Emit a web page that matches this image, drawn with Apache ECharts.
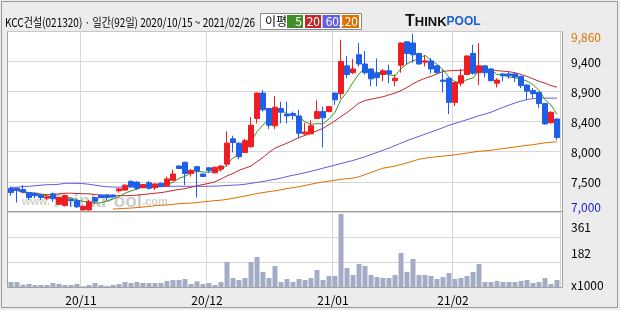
<!DOCTYPE html>
<html><head><meta charset="utf-8">
<script src="https://cdn.jsdelivr.net/npm/echarts@6/dist/echarts.min.js"></script>
<style>html,body{margin:0;padding:0;background:#ececec;}#c{width:620px;height:310px;}</style>
</head><body><div id="c"></div>
<script>
// ---------- DATA ----------
const dates = [
'2020/10/15','2020/10/16','2020/10/19','2020/10/20','2020/10/21','2020/10/22','2020/10/23','2020/10/26','2020/10/27','2020/10/28','2020/10/29','2020/10/30',
'2020/11/02','2020/11/03','2020/11/04','2020/11/05','2020/11/06','2020/11/09','2020/11/10','2020/11/11','2020/11/12','2020/11/13','2020/11/16','2020/11/17','2020/11/18','2020/11/19','2020/11/20','2020/11/23','2020/11/24','2020/11/25','2020/11/26','2020/11/27','2020/11/30',
'2020/12/01','2020/12/02','2020/12/03','2020/12/04','2020/12/07','2020/12/08','2020/12/09','2020/12/10','2020/12/11','2020/12/14','2020/12/15','2020/12/16','2020/12/17','2020/12/18','2020/12/21','2020/12/22','2020/12/23','2020/12/24','2020/12/28','2020/12/29','2020/12/30',
'2021/01/04','2021/01/05','2021/01/06','2021/01/07','2021/01/08','2021/01/11','2021/01/12','2021/01/13','2021/01/14','2021/01/15','2021/01/18','2021/01/19','2021/01/20','2021/01/21','2021/01/22','2021/01/25','2021/01/26','2021/01/27','2021/01/28','2021/01/29',
'2021/02/01','2021/02/02','2021/02/03','2021/02/04','2021/02/05','2021/02/08','2021/02/09','2021/02/10','2021/02/15','2021/02/16','2021/02/17','2021/02/18','2021/02/19','2021/02/22','2021/02/23','2021/02/24','2021/02/25','2021/02/26'];

const opens = [7360,7360,7340,7290,7280,7250,7200,7270,7100,7080,7180,7160,7010,7010,7210,7250,7250,7250,7320,7330,
7470,7460,7370,7450,7370,7440,7400,7490,7720,7780,7600,7710,7590,7690,7610,7670,7750,8160,8090,7940,
8030,8490,8900,8650,8370,8650,8560,8570,8530,8240,8240,8490,8600,8600,8900,8890,9340,9230,9520,9370,
9290,9220,9200,9260,9100,9350,9730,9710,9540,9400,9420,9340,9110,9140,8750,9060,9200,9540,9230,9340,
9290,9060,9210,9210,9210,9170,9030,8940,8910,8730,8420,8480];
const closes = [7290,7330,7300,7210,7240,7210,7220,7190,7210,7240,7160,7060,7070,7140,7150,7210,7210,7220,7350,7410,
7390,7360,7420,7360,7430,7390,7510,7590,7680,7600,7650,7640,7550,7650,7700,7720,8090,8100,7870,8130,
8380,8900,8630,8380,8670,8590,8530,8540,8250,8270,8370,8600,8500,8680,8790,9410,9200,9290,9370,9230,
9130,9150,9260,9210,9140,9710,9540,9520,9370,9420,9290,9230,9090,8750,9070,9180,9500,9220,9340,9230,
9100,9110,9180,9180,9160,9020,8930,8890,8730,8400,8590,8180];
const lows = [7240,7130,7280,7170,7200,7170,7170,7140,7090,7070,7060,7040,7000,7000,7120,7200,7170,7210,7290,7320,
7380,7330,7360,7340,7330,7380,7390,7480,7670,7410,7550,7210,7540,7610,7600,7630,7710,7940,7830,7930,
8020,8410,8600,8320,8320,8410,8410,8470,8170,8210,8240,8480,8020,8590,8710,8810,9140,9210,9330,9200,
9010,9010,9090,9060,9010,9230,9360,9390,9360,9330,9220,9220,8910,8560,8690,9010,9190,9200,9030,9150,
9090,8990,9090,9130,9080,8980,8800,8820,8660,8390,8410,8140];
const highs = [7390,7370,7410,7300,7290,7260,7250,7290,7220,7250,7200,7170,7080,7170,7220,7260,7260,7260,7360,7420,
7490,7470,7430,7480,7440,7450,7550,7660,7730,7790,7670,7720,7600,7700,7710,7730,8280,8210,8100,8160,
8510,8910,8950,8660,8850,8760,8760,8600,8630,8420,8460,8780,8680,8690,8910,9760,9500,9450,9710,9580,
9300,9460,9290,9360,9200,9720,9740,9860,9550,9500,9470,9350,9280,9150,9080,9290,9510,9680,9710,9350,
9300,9140,9220,9240,9220,9180,9040,8980,8920,8740,8600,8490];
const volumes = [38,38,19,24,17,17,17,31,24,17,17,24,7,17,31,17,10,17,24,38,
31,38,31,31,31,31,46,53,53,60,24,43,24,31,17,38,183,67,53,67,
183,219,111,67,154,38,60,38,60,53,67,125,53,82,82,529,139,89,168,154,
89,74,67,67,89,248,111,204,89,89,82,60,74,103,60,67,82,111,168,38,
38,46,38,38,38,46,53,31,38,67,24,53];
const ma5 = [7350,7330,7310,7290,7274,7258,7236,7214,7214,7214,7204,7172,7148,7134,7116,7126,7156,7186,7228,7280,
7316,7346,7386,7388,7392,7392,7422,7456,7520,7554,7606,7632,7624,7618,7638,7652,7742,7852,7896,7982,
8114,8276,8382,8484,8592,8634,8560,8542,8516,8436,8392,8406,8398,8484,8588,8796,8916,9074,9212,9300,
9244,9234,9228,9196,9178,9294,9372,9424,9456,9512,9428,9366,9280,9156,9086,9064,9118,9144,9262,9294,
9278,9200,9192,9160,9146,9130,9094,9036,8946,8794,8708,8558];
const ma20 = [7330,7325,7290,7285,7280,7265,7258,7255,7270,7280,7280,7275,7272,7270,7260,7245,7240,7240,7240,7240,
7242,7250,7258,7270,7280,7290,7305,7325,7340,7355,7375,7400,7420,7440,7465,7510,7560,7600,7650,7685,
7720,7790,7860,7940,8010,8050,8090,8135,8180,8215,8250,8290,8330,8390,8450,8520,8585,8660,8740,8780,
8800,8820,8840,8870,8900,8940,8990,9050,9100,9140,9170,9210,9250,9260,9265,9270,9275,9277,9277,9275,
9270,9262,9255,9245,9230,9200,9170,9130,9090,9060,9020,8996];
const ma60 = [7376,7376,7390,7392,7400,7410,7418,7418,7425,7440,7440,7440,7435,7425,7410,7395,7385,7380,7378,7378,
7378,7378,7378,7380,7382,7385,7390,7392,7392,7392,7392,7392,7392,7392,7395,7398,7405,7410,7415,7425,
7440,7455,7470,7488,7505,7525,7550,7570,7590,7612,7635,7658,7685,7710,7735,7760,7785,7810,7840,7870,
7905,7940,7975,8010,8050,8090,8130,8165,8200,8235,8270,8305,8340,8380,8410,8440,8470,8500,8535,8560,
8590,8630,8670,8705,8740,8770,8795,8810,8818,8818,8818,8818];
const ma120 = [null,null,null,null,null,null,null,null,null,null,null,null,null,null,null,null,null,7024,7030,7035,
7040,7048,7056,7067,7078,7085,7090,7100,7110,7116,7120,7128,7140,7150,7160,7168,7180,7198,7215,7235,
7255,7275,7290,7305,7320,7335,7355,7370,7385,7405,7425,7445,7462,7475,7490,7505,7515,7525,7545,7580,
7615,7650,7685,7700,7720,7745,7770,7800,7830,7845,7860,7870,7880,7890,7900,7915,7930,7945,7958,7965,
7975,7990,8000,8015,8028,8040,8055,8065,8080,8095,8105,8112];
const priceTickLabels = ['7,000','7,500','8,000','8,400','8,900','9,400','9,860'];
const volumeTickLabels = ['x1000','182','361',''];
const maNames = ['5','20','60','120'];
const titleText = 'KCC건설(021320) · 일간(92일) 2020/10/15 ~ 2021/02/26';

// ---------- CHART ----------
const FONT = '"Noto Sans CJK KR", "Noto Sans", sans-serif';
const monthStart = dates.map((d,i)=> i>0 && d.slice(0,7)!==dates[i-1].slice(0,7));
const ohlc = dates.map((d,i)=>[opens[i],closes[i],lows[i],highs[i]]);
const GRID_LINE = '#d6d6d6';
const maColors = ['#3f9322','#c42a2a','#6a5be0','#e07000'];
const boxColors = ['#3e8e28','#c02828','#6262dc','#e07000'];

// fit the title into the same width as the reference header text
const mctx = document.createElement('canvas').getContext('2d');
mctx.font = '12px ' + FONT;
const titleScale = Math.min(1, 250 / mctx.measureText(titleText).width);

const chart = echarts.init(document.getElementById('c'));
const xBase = {type:'category', data:dates, boundaryGap:true,
  axisLine:{show:false}, axisTick:{show:false},
  splitLine:{show:true, interval:(i)=>monthStart[i], lineStyle:{color:GRID_LINE,width:1}}};

const legendGraphics = [];
const boxX = [287,305,322.5,341.5], boxW = [16,16,17.5,17.5];
maNames.forEach((n,k)=>{
  legendGraphics.push({type:'rect', shape:{x:boxX[k],y:15,width:boxW[k],height:13}, style:{fill:boxColors[k]}, z:20});
  legendGraphics.push({type:'text', x:boxX[k]+boxW[k]-1, y:21.5, style:{text:n, fill:'#fff', font:'12px '+FONT, align:'right', verticalAlign:'middle'}, z:21});
});

chart.setOption({
  animation:false,
  backgroundColor:'#ececec',
  grid:[{left:8, top:31, width:552, height:181},{left:8, top:212, width:552, height:75.3}],
  xAxis:[
    Object.assign({}, xBase, {gridIndex:0, axisLabel:{show:false}}),
    Object.assign({}, xBase, {gridIndex:1, axisLabel:{show:true, interval:(i)=>monthStart[i],
      formatter:(v)=>v.slice(2,7), color:'#000', fontSize:12, fontFamily:FONT, margin:7, padding:[0,4,0,0]}})
  ],
  yAxis:[
    {type:'value', gridIndex:0, min:6976, max:9904, show:false},
    {type:'value', gridIndex:0, min:0, max:6, interval:1, position:'right',
      axisLine:{show:false}, axisTick:{show:false},
      splitLine:{show:true, lineStyle:{color:GRID_LINE}},
      axisLabel:{margin:11, fontSize:12, fontFamily:FONT, color:'#000',
        formatter:(v)=>{const i=Math.round(v); const t=priceTickLabels[i]; return '{'+(i===6?'hi':(i===0?'lo':'n'))+'|'+t+'}';},
        rich:{hi:{color:'#e07000',fontSize:12,fontFamily:FONT,padding:[13,0,0,0]},
              lo:{color:'#1c1cd6',fontSize:12,fontFamily:FONT,padding:[0,0,10,0]},
              n:{color:'#000',fontSize:12,fontFamily:FONT,padding:[2,0,0,0]}}}},
    {type:'value', gridIndex:1, min:0, max:543, interval:181, position:'right',
      axisLine:{show:false}, axisTick:{show:false},
      splitLine:{show:true, lineStyle:{color:GRID_LINE}},
      axisLabel:{margin:11, fontSize:12, fontFamily:FONT, color:'#000',
        formatter:(v)=>{const i=Math.round(v/181); return '{v'+i+'|'+volumeTickLabels[i]+'}';},
        rich:{v0:{fontSize:12,fontFamily:FONT,color:'#000',padding:[0,0,3,0]},
              v1:{fontSize:12,fontFamily:FONT,color:'#000',padding:[0,0,17,0]},
              v2:{fontSize:12,fontFamily:FONT,color:'#000',padding:[0,0,19,0]},
              v3:{fontSize:12,fontFamily:FONT,color:'#000'}}}}
  ],
  series:[
    {type:'line', name:'MA120', xAxisIndex:0, yAxisIndex:0, data:ma120, symbol:'none', z:3, lineStyle:{color:maColors[3], width:1}},
    {type:'line', name:'MA60', xAxisIndex:0, yAxisIndex:0, data:ma60, symbol:'none', z:3, lineStyle:{color:maColors[2], width:1}},
    {type:'line', name:'MA20', xAxisIndex:0, yAxisIndex:0, data:ma20, symbol:'none', z:3, lineStyle:{color:maColors[1], width:1}},
    {type:'line', name:'MA5', xAxisIndex:0, yAxisIndex:0, data:ma5, symbol:'none', z:3, lineStyle:{color:maColors[0], width:1}},
    {type:'candlestick', xAxisIndex:0, yAxisIndex:0, data:ohlc, barWidth:5, z:4,
      itemStyle:{color:'#ee1d23', color0:'#1f5fe6', borderColor:'#ee1d23', borderColor0:'#1f5fe6', borderWidth:1}},
    {type:'bar', xAxisIndex:1, yAxisIndex:2, data:volumes, barWidth:5, itemStyle:{color:'#a3acc4'}}
  ],
  graphic:[
    {type:'rect', shape:{x:7.5,y:31.5,width:555,height:256}, style:{fill:'#fff'}, z:-10, silent:true},
    {type:'text', x:22, y:211, z:1, style:{text:'{a|www.}{b|ThinkPool}{a|.com}', verticalAlign:'bottom',
      rich:{a:{fontSize:11,fontWeight:'bold',fontFamily:'"Liberation Sans"',fill:'#d0d0d0'},
            b:{fontSize:19,fontWeight:'bold',fontFamily:'"Liberation Sans"',fill:'#cccccc'}}}},
    {type:'rect', shape:{x:7.5,y:31.5,width:555,height:256}, style:{fill:null, stroke:'#a2a2a2', lineWidth:1}, z:30, silent:true},
    {type:'line', shape:{x1:7.5,y1:31.5,x2:562.5,y2:31.5}, style:{stroke:'#c8c8c8', lineWidth:1}, z:31},
    {type:'line', shape:{x1:7.5,y1:211.5,x2:562.5,y2:211.5}, style:{stroke:'#9a9a9a', lineWidth:1}, z:31},
    {type:'rect', shape:{x:1.5,y:1.5,width:616,height:306}, style:{fill:null, stroke:'#9a9a9a', lineWidth:1}, z:30, silent:true},
    {type:'text', x:5, y:22, scaleX:titleScale, z:20, style:{text:titleText, fill:'#000', font:'12px '+FONT, verticalAlign:'middle'}},
    {type:'rect', shape:{x:260.5,y:13.5,width:101,height:16}, style:{fill:'#fff', stroke:'#8a8a8a', lineWidth:1}, z:19},
    {type:'text', x:265, y:21.5, z:20, style:{text:'이평', fill:'#000', font:'12px '+FONT, verticalAlign:'middle'}},
    ...legendGraphics,
    {type:'text', x:405, y:22, z:20, style:{text:'{t|T}{h|HINK}{p|POOL}', verticalAlign:'middle',
      rich:{t:{fontSize:16,fontWeight:'bold',fontFamily:'"Liberation Sans"',fill:'#111'},
            h:{fontSize:13,fontWeight:'bold',fontFamily:'"Liberation Sans"',fill:'#111'},
            p:{fontSize:12,fontWeight:'bold',fontFamily:'"Liberation Sans"',fill:'#1a5fd8'}}}}
  ]
});
</script></body></html>
